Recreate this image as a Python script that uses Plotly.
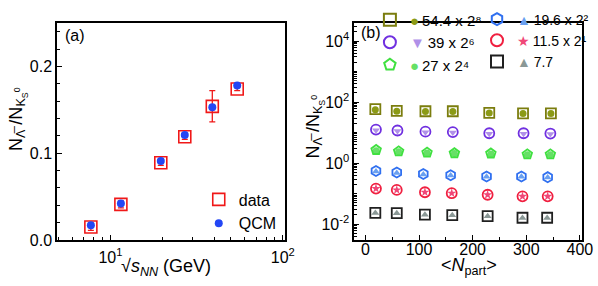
import plotly.graph_objects as go

# ---------- Panel (a) data ----------
energy = [7.7, 11.5, 19.6, 27, 39, 54.4]
ratio_data = [0.015, 0.041, 0.089, 0.119, 0.154, 0.174]
ratio_err = [0.004, 0.004, 0.003, 0.003, 0.018, 0.002]
ratio_qcm = [0.017, 0.042, 0.091, 0.121, 0.153, 0.178]

# ---------- Panel (b) data (plotted values, already scaled) ----------
series_names = ["54.4 x 2\u2078", "39 x 2\u2076", "27 x 2\u2074",
                "19.6 x 2\u00B2", "11.5 x 2\u00B9", "7.7"]
npart = {
    "54.4": [18.5, 58.5, 112, 163, 231, 294, 346],
    "39":   [19.7, 59.8, 112, 163, 231, 295, 345],
    "27":   [20, 62, 115, 166, 234, 302, 345],
    "19.6": [19.7, 58.5, 108, 159, 226, 291, 340],
    "11.5": [19.7, 58.5, 111, 161, 228, 293, 340],
    "7.7":  [18.5, 58.5, 111, 162, 228, 293, 339],
}
scaled_data = {
    "54.4": [58.6, 51.1, 50.0, 50.0, 44.5, 42.7, 42.7],
    "39":   [12.5, 11.7, 10.7, 10.4, 9.5, 9.5, 9.3],
    "27":   [2.69, 2.43, 2.22, 2.11, 2.07, 1.93, 1.93],
    "19.6": [0.55, 0.489, 0.437, 0.397, 0.363, 0.363, 0.346],
    "11.5": [0.146, 0.132, 0.111, 0.103, 0.0917, 0.0815, 0.0815],
    "7.7":  [0.0234, 0.0230, 0.0204, 0.0196, 0.0183, 0.0162, 0.0162],
}
scaled_qcm = {
    "54.4": [56.0, 50.0, 49.0, 49.0, 43.5, 42.0, 42.0],
    "39":   [11.8, 11.2, 10.3, 10.0, 9.2, 9.2, 9.0],
    "27":   [2.55, 2.35, 2.15, 2.05, 2.0, 1.88, 1.88],
    "19.6": [0.53, 0.475, 0.425, 0.39, 0.355, 0.355, 0.34],
    "11.5": [0.146, 0.132, 0.111, 0.103, 0.0917, 0.0815, 0.0815],
    "7.7":  [0.0232, 0.0228, 0.0202, 0.0194, 0.0181, 0.0160, 0.0160],
}
keys = ["54.4", "39", "27", "19.6", "11.5", "7.7"]
open_sym = ["square-open", "circle-open", "pentagon-open", "hexagon-open", "circle-open", "square-open"]
open_col = ["#7b7d0e", "#7030e0", "#40e040", "#3070f0", "#f02040", "#202020"]
fill_sym = ["circle", "triangle-down", "circle", "triangle-up", "star", "triangle-up"]
fill_col = ["#8b9a16", "#b090e8", "#66e066", "#6aa0f0", "#f04878", "#8a9896"]
fill_char = ["\u25CF", "\u25BC", "\u25CF", "\u25B2", "\u2605", "\u25B2"]
legend_of = ["legend", "legend", "legend", "legend2", "legend2", "legend2"]

FONT = "Arial, Liberation Sans, sans-serif"
fig = go.Figure()

# Panel (a)
fig.add_trace(go.Scatter(
    x=energy, y=ratio_data, mode="markers", name="data",
    error_y=dict(type="data", array=ratio_err, color="#f01818", thickness=1.3, width=3),
    marker=dict(symbol="square-open", size=12, color="#f01818", line=dict(width=1.6)),
    xaxis="x", yaxis="y", legend="legend3"))
fig.add_trace(go.Scatter(
    x=energy, y=ratio_qcm, mode="markers", name="QCM",
    marker=dict(symbol="circle", size=8, color="#2346f5"),
    xaxis="x", yaxis="y", legend="legend3"))

# Panel (b)
for i, k in enumerate(keys):
    fig.add_trace(go.Scatter(
        x=npart[k], y=scaled_qcm[k], mode="markers", showlegend=False,
        marker=dict(symbol=fill_sym[i], size=7, color=fill_col[i]),
        xaxis="x2", yaxis="y2"))
    fig.add_trace(go.Scatter(
        x=npart[k], y=scaled_data[k], mode="markers",
        name=f"<span style='color:{fill_col[i]}'>{fill_char[i]}</span>\u2009{series_names[i]}",
        marker=dict(symbol=open_sym[i], size=10, color=open_col[i], line=dict(width=1.8, color=open_col[i])),
        xaxis="x2", yaxis="y2", legend=legend_of[i]))

axis_common = dict(showline=True, linecolor="black", linewidth=1.5, mirror=True,
                   ticks="inside", tickcolor="black", tickwidth=1.2, ticklen=5,
                   showgrid=False, zeroline=False, tickfont=dict(size=16, color="black"))

minor_a = [5, 6, 7, 8, 9, 20, 30, 40, 50, 60, 70, 80, 90]
minor_b = []
for e in range(-3, 5):
    for m in range(2, 10):
        minor_b.append(m * 10 ** e)
for e in [-3, -1, 1, 3]:
    minor_b.append(10 ** e)

ytitle = "N<sub>\u039B\u0305</sub> /N<sub>K<sub>S</sub><sup>0</sup></sub>"

fig.update_layout(
    width=598, height=286,
    margin=dict(l=57, r=11, t=4, b=46),
    paper_bgcolor="white", plot_bgcolor="white",
    font=dict(family=FONT, color="black", size=16),
    xaxis=dict(domain=[0, 0.434], type="log", range=[0.69, 2.012],
               tickvals=[10, 100], ticktext=["10<sup>1</sup>", "10<sup>2</sup>"],
               minor=dict(tickvals=minor_a, ticks="inside", ticklen=3, tickcolor="black"),
               ticklabelstandoff=2,
               anchor="y", **axis_common),
    yaxis=dict(domain=[0, 1], range=[0, 0.25], tickvals=[0, 0.1, 0.2],
               ticktext=["0.0", "0.1", "0.2"],
               minor=dict(dtick=0.02, ticks="inside", ticklen=3, tickcolor="black"),
               anchor="x", **axis_common),
    xaxis2=dict(domain=[0.566, 1], range=[-21, 404], tickvals=[0, 100, 200, 300, 400],
                minor=dict(dtick=50, tick0=0, ticks="inside", ticklen=3, tickcolor="black"),
                ticklabelstandoff=-6,
                anchor="y2", **axis_common),
    yaxis2=dict(domain=[0, 1], type="log", range=[-2.52, 4.59],
                tickvals=[0.01, 1, 100, 10000],
                ticktext=["10<sup>-2</sup>", "10<sup>0</sup>", "10<sup>2</sup>", "10<sup>4</sup>"],
                minor=dict(tickvals=minor_b, ticks="inside", ticklen=3, tickcolor="black"),
                anchor="x2", **axis_common),
    legend=dict(x=0.596, y=1.09, xanchor="left", yanchor="top", bgcolor="rgba(0,0,0,0)",
                font=dict(size=15), tracegroupgap=0, itemsizing="constant"),
    legend2=dict(x=0.8, y=1.09, xanchor="left", yanchor="top", bgcolor="rgba(0,0,0,0)",
                 font=dict(size=14), tracegroupgap=0, itemsizing="constant"),
    legend3=dict(x=0.27, y=0.265, xanchor="left", yanchor="top", bgcolor="rgba(0,0,0,0)",
                 font=dict(size=16), tracegroupgap=0),
    annotations=[
        dict(text="(a)", x=0.011, y=0.99, xref="paper", yref="paper", xanchor="left",
             yanchor="top", showarrow=False, font=dict(size=16)),
        dict(text="(b)", x=0.576, y=1.005, xref="paper", yref="paper", xanchor="left",
             yanchor="top", showarrow=False, font=dict(size=16)),
        dict(text="\u221A<i>s<sub>NN</sub></i> (GeV)", x=0.119, y=-0.127, xref="paper",
             yref="paper", xanchor="left", yanchor="middle", showarrow=False,
             font=dict(size=18)),
        dict(text="<<i>N</i><sub>part</sub>>", x=0.728, y=-0.12, xref="paper",
             yref="paper", xanchor="left", yanchor="middle", showarrow=False,
             font=dict(size=18)),
        dict(text=ytitle, x=-0.0755, y=0.559, xref="paper", yref="paper", textangle=-90,
             xanchor="center", yanchor="middle", showarrow=False, font=dict(size=18)),
        dict(text=ytitle, x=0.4906, y=0.521, xref="paper", yref="paper", textangle=-90,
             xanchor="center", yanchor="middle", showarrow=False, font=dict(size=18)),
    ],
)

fig.write_html("out.html", config={"displayModeBar": False},
               post_script="document.body.style.margin='0';document.body.style.padding='0';")
